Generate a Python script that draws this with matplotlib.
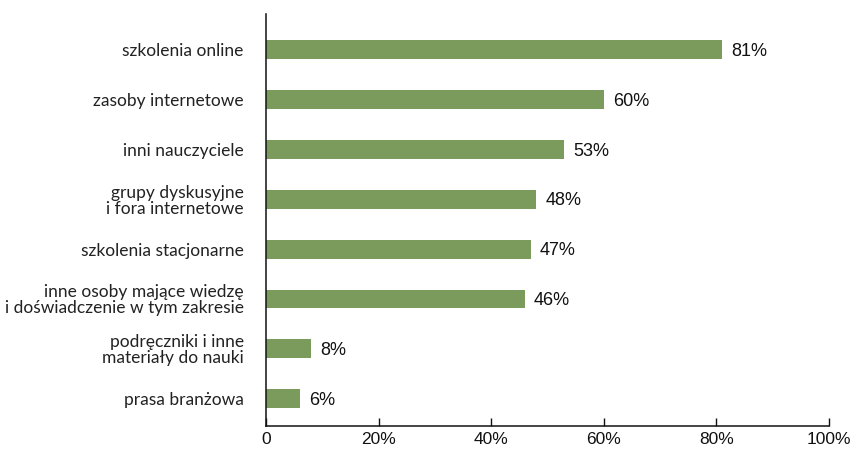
import matplotlib.pyplot as plt
from matplotlib.ticker import FuncFormatter

# data
categories = [
    'szkolenia online',
    'zasoby internetowe',
    'inni nauczyciele',
    'grupy dyskusyjne\ni fora internetowe',
    'szkolenia stacjonarne',
    'inne osoby mające wiedzę\ni doświadczenie w tym zakresie',
    'podręczniki i inne\nmateriały do nauki',
    'prasa branżowa',
]
values = [81, 60, 53, 48, 47, 46, 8, 6]
xticks = [0, 20, 40, 60, 80, 100]

bar_color = '#7b9b5d'
num_font = ['Liberation Sans', 'DejaVu Sans']
cat_font = ['Lato', 'DejaVu Sans']

fig = plt.figure(figsize=(8.56, 4.49), dpi=100)
ax = fig.add_axes([0.3107, 0.0512, 0.6578, 0.9176])

pos = list(range(len(categories)))
ax.barh(pos, values, height=0.38, color=bar_color)

for p, v in zip(pos, values):
    ax.text(v + 1.6, p + 0.03, f'{v}%', va='center', ha='left',
            fontsize=13, family=num_font, color='#111111')

ax.set_ylim(len(categories) - 0.45, -0.72)
ax.set_xlim(0, 100)

ax.set_yticks(pos)
ax.set_yticklabels(categories, fontsize=12.5, family=cat_font,
                   color='#222222', linespacing=1.0)
ax.tick_params(axis='y', length=0, pad=16)

ax.set_xticks(xticks)
ax.xaxis.set_major_formatter(FuncFormatter(lambda x, _: '0' if x == 0 else f'{x:.0f}%'))
ax.tick_params(axis='x', direction='in', length=6, width=1, pad=4,
               labelsize=12.5, colors='#111111')
for lab in ax.get_xticklabels():
    lab.set_family(num_font)

for s in ['top', 'right']:
    ax.spines[s].set_visible(False)
for s in ['left', 'bottom']:
    ax.spines[s].set_linewidth(1.1)
    ax.spines[s].set_color('#111111')

fig.savefig('out.png', dpi=100)
